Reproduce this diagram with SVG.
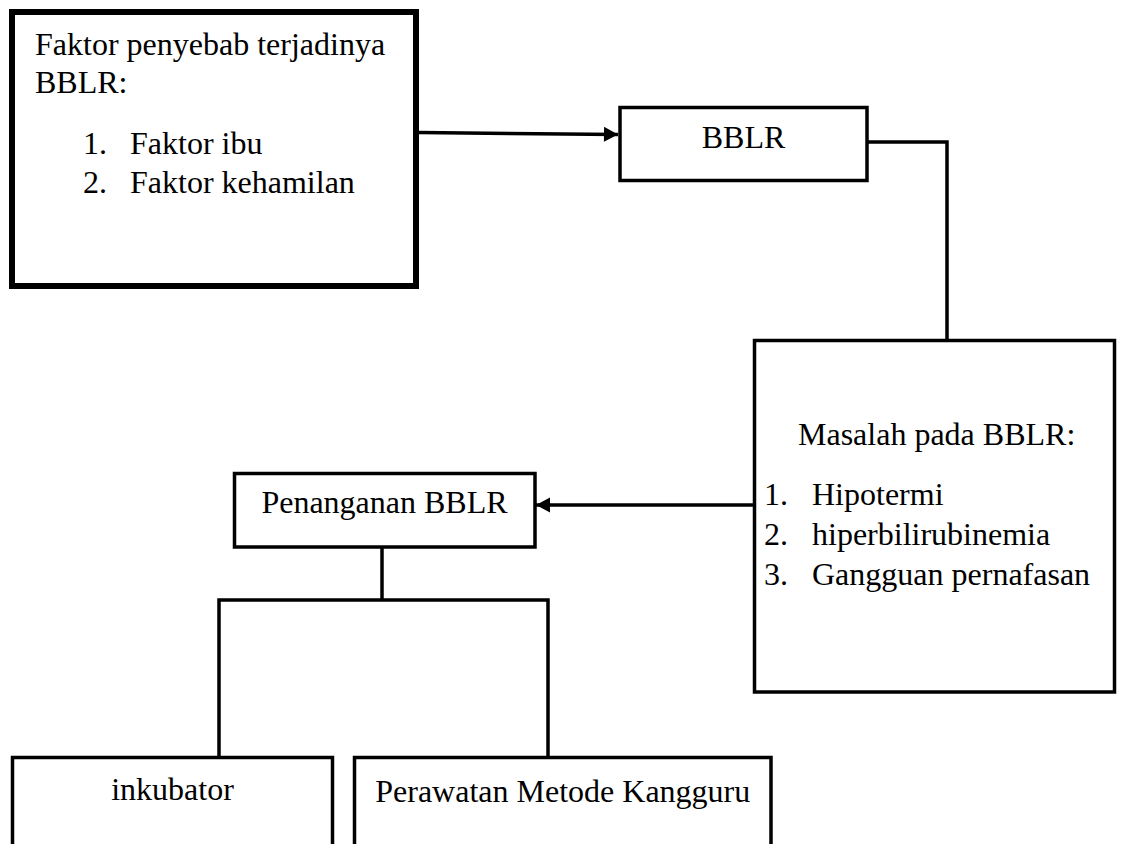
<svg xmlns="http://www.w3.org/2000/svg" width="1121" height="844" viewBox="0 0 1121 844">
<style>
  .box { fill: #ffffff; stroke: #000000; stroke-width: 3.5; }
  .thick { stroke-width: 6; }
  .t { font-family: "Liberation Serif", "Times New Roman", serif; font-size: 32px; fill: #000000; }
  .c { text-anchor: middle; }
  .conn { fill: none; stroke: #000000; stroke-width: 3.5; }
</style>
<defs>
  <marker id="arrow" markerUnits="userSpaceOnUse" markerWidth="16" markerHeight="16" viewBox="0 0 14 16" refX="14" refY="8" orient="auto">
    <polygon points="0,0.5 14,8 0,15.5" fill="#000000"/>
  </marker>
</defs>
<rect width="1121" height="844" fill="#ffffff"/>
<g id="connectors">
  <line class="conn" x1="419" y1="132.5" x2="618" y2="134.5" marker-end="url(#arrow)"/>
  <path class="conn" d="M867,142 H947 V340"/>
  <line class="conn" x1="754" y1="505" x2="536" y2="505" marker-end="url(#arrow)"/>
  <path class="conn" d="M382,547 V600"/>
  <path class="conn" d="M219,757 V600 H548 V757"/>
</g>
<g id="faktor">
  <rect class="box thick" x="12" y="12" width="404" height="274"/>
  <text class="t" x="35" y="55">Faktor penyebab terjadinya</text>
  <text class="t" x="35" y="93">BBLR:</text>
  <text class="t" x="83" y="154">1.</text>
  <text class="t" x="130" y="154">Faktor ibu</text>
  <text class="t" x="83" y="193">2.</text>
  <text class="t" x="130" y="193">Faktor kehamilan</text>
</g>
<g id="bblr">
  <rect class="box" x="620" y="107.5" width="247" height="73"/>
  <text class="t c" x="743.5" y="148">BBLR</text>
</g>
<g id="masalah">
  <rect class="box" x="754.5" y="340.5" width="360" height="351.5"/>
  <text class="t" x="798" y="445">Masalah pada BBLR:</text>
  <text class="t" x="764" y="505">1.</text>
  <text class="t" x="812" y="505">Hipotermi</text>
  <text class="t" x="764" y="545">2.</text>
  <text class="t" x="812" y="545">hiperbilirubinemia</text>
  <text class="t" x="764" y="585">3.</text>
  <text class="t" x="812" y="585">Gangguan pernafasan</text>
</g>
<g id="penanganan">
  <rect class="box" x="234.5" y="473.5" width="300.5" height="73.5"/>
  <text class="t c" x="384.5" y="513">Penanganan BBLR</text>
</g>
<g id="inkubator">
  <rect class="box" x="12.5" y="757.5" width="320" height="100"/>
  <text class="t c" x="172.5" y="800">inkubator</text>
</g>
<g id="kangguru">
  <rect class="box" x="354.5" y="757.5" width="416.5" height="100"/>
  <text class="t c" x="562.75" y="802">Perawatan Metode Kangguru</text>
</g>
</svg>
